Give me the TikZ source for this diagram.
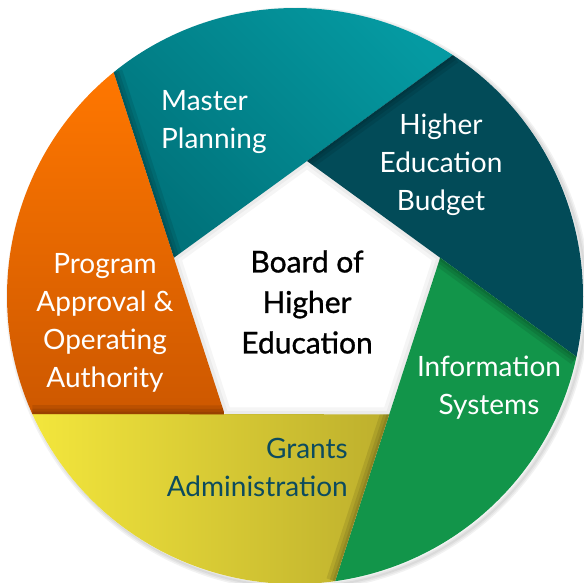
\documentclass[tikz,border=0pt]{standalone}
\usepackage{fontspec}
\setmainfont{Lato}
\newfontfamily\boardfont{Lato}[FakeBold=1]
\usetikzlibrary{calc}

\definecolor{tealdark}{HTML}{00727A}
\definecolor{teallight}{HTML}{059AA2}
\definecolor{budgetblue}{HTML}{024B58}
\definecolor{infogreen}{HTML}{12954A}
\definecolor{grantsleft}{HTML}{F3E63C}
\definecolor{grantsright}{HTML}{BDAF2D}
\definecolor{orangetop}{HTML}{FF7700}
\definecolor{orangebottom}{HTML}{CD5800}
\definecolor{grantstext}{HTML}{0C4B5E}

\tikzset{
  seglabel/.style={text=white, align=center, inner sep=0pt, font=\fontsize{28}{38}\selectfont},
  boardlabel/.style={text=black, align=center, inner sep=0pt, font=\boardfont\fontsize{30}{40.5}\selectfont},
}

\begin{document}
\begin{tikzpicture}[x=1pt,y=1pt]
\useasboundingbox (0,0) rectangle (584,583);
\def\rad{288}
% circle and pentagon
\coordinate (C) at (295,287);
\coordinate (T) at (307,422);
\coordinate (R) at (440.15,325.26);
\coordinate (BR) at (389.29,168.74);
\coordinate (BL) at (224.71,168.74);
\coordinate (L) at (173.85,325.26);

% soft shadow round the disc
\foreach \w in {8,5,2}
  \draw[black, opacity=0.05, line width=\w pt] ($(C)+(3,-3)$) circle (\rad);
\fill[white] (C) circle (\rad);

% the five blades
\shade[top color=tealdark, bottom color=teallight, shading angle=135]
  ($(C)+(56.77:\rad)$) arc[start angle=56.77, end angle=129.04, radius=\rad] -- (L) -- cycle;
\fill[budgetblue]
  ($(C)+(-12.19:\rad)$) arc[start angle=-12.19, end angle=56.77, radius=\rad] -- (T) -- cycle;
\fill[infogreen]
  ($(C)+(-82:\rad)$) arc[start angle=-82, end angle=-12.19, radius=\rad] -- (R) -- cycle;
\shade[left color=grantsleft, right color=grantsright]
  ($(C)+(-155.76:\rad)$) arc[start angle=-155.76, end angle=-82, radius=\rad] -- (BR) -- cycle;
\shade[top color=orangetop, bottom color=orangebottom]
  ($(C)+(129.04:\rad)$) arc[start angle=129.04, end angle=204.24, radius=\rad] -- (BL) -- cycle;

% shadow where one blade lies on the next
\foreach \a/\b/\v in {56.77/129.04/L, -12.19/56.77/T, -82/-12.19/R, -155.76/-82/BR, 129.04/204.24/BL} {
  \begin{scope}
    \clip ($(C)+(\a:\rad)$) arc[start angle=\a, end angle=\b, radius=\rad] -- (\v) -- cycle;
    \foreach \w in {18,11,5}
      \draw[black, opacity=0.09, line width=\w pt] (\v) -- ($(C)+(\b:\rad)$);
  \end{scope}
}
% shadow inside the pentagon
\begin{scope}
  \clip (T) -- (R) -- (BR) -- (BL) -- (L) -- cycle;
  \foreach \w in {14,7}
    \draw[black, opacity=0.04, line width=\w pt] (T) -- (R) -- (BR) -- (BL) -- (L) -- cycle;
\end{scope}

% labels
\node[seglabel, align=left, anchor=west] (master) at (161,461) {Master\\Planning};
\node[seglabel] (budget) at (441,418) {Higher\\Education\\Budget};
\node[seglabel] (program) at (105,260.5) {Program\\Approval \&\\Operating\\Authority};
\node[seglabel] (info) at (489,195) {Information\\Systems};
\node[seglabel, text=grantstext, align=right, anchor=east] (grants) at (348,116) {Grants\\Administration};
\node[boardlabel] (board) at (307,281) {Board of\\Higher\\Education};
\end{tikzpicture}
\end{document}
